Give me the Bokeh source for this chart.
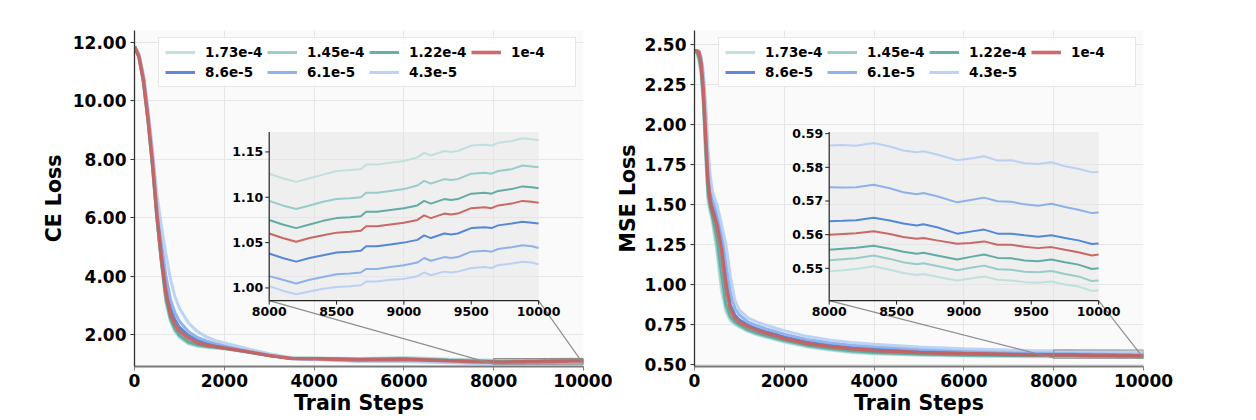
import numpy as np
from bokeh.plotting import figure
from bokeh.models import Range1d, FixedTicker, PrintfTickFormatter, Legend, LegendItem
from bokeh.layouts import row
from bokeh.embed import file_html
from bokeh.resources import INLINE
from bokeh.core.properties import value

# ---------------- data ----------------
SERIES_LABELS = ["1.73e-4", "1.45e-4", "1.22e-4", "1e-4", "8.6e-5", "6.1e-5", "4.3e-5"]
SERIES_COLORS = ["#bcdfdb", "#90cac4", "#5aa8a0", "#c85f5d", "#4c82d7", "#87aee9", "#b6cff3"]

X_TICKS = [0, 2000, 4000, 6000, 8000, 10000]
CE_Y_TICKS = [2, 4, 6, 8, 10, 12]
MSE_Y_TICKS = [0.5, 0.75, 1.0, 1.25, 1.5, 1.75, 2.0, 2.25, 2.5]

ZOOM_X_TICKS = [8000, 8500, 9000, 9500, 10000]
ZOOM_X_TICK_LABELS = ["8000", "8500", "9000", "9500", "10000"]
CE_ZOOM_Y_TICKS = [1.00, 1.05, 1.10, 1.15]
CE_ZOOM_Y_TICK_LABELS = ["1.00", "1.05", "1.10", "1.15"]
MSE_ZOOM_Y_TICKS = [0.55, 0.56, 0.57, 0.58, 0.59]
MSE_ZOOM_Y_TICK_LABELS = ["0.55", "0.56", "0.57", "0.58", "0.59"]

# CE loss, steps 0..7500
CE_STEPS = [0, 100, 200, 300, 400, 500, 600, 700, 800, 900, 1000, 1200, 1400, 1600,
            1800, 2000, 2500, 3000, 3500, 4000, 5000, 6000, 7000, 7500]
ce_173e4 = [11.85, 11.5, 10.6, 9.3, 7.7, 5.9, 4.4, 3.1, 2.45, 2.1, 1.9, 1.68, 1.6, 1.56, 1.53, 1.5, 1.40, 1.28, 1.21, 1.20, 1.18, 1.21, 1.16, 1.14]
ce_145e4 = [11.85, 11.5, 10.6, 9.3, 7.75, 5.95, 4.45, 3.15, 2.5, 2.15, 1.94, 1.71, 1.62, 1.58, 1.55, 1.52, 1.41, 1.28, 1.20, 1.19, 1.16, 1.19, 1.14, 1.12]
ce_122e4 = [11.85, 11.5, 10.65, 9.35, 7.8, 6.0, 4.5, 3.25, 2.55, 2.2, 1.98, 1.75, 1.65, 1.6, 1.56, 1.53, 1.41, 1.28, 1.19, 1.18, 1.15, 1.17, 1.12, 1.10]
ce_1e4 = [11.85, 11.5, 10.7, 9.4, 7.9, 6.1, 4.6, 3.4, 2.7, 2.35, 2.12, 1.88, 1.72, 1.64, 1.59, 1.54, 1.42, 1.28, 1.18, 1.17, 1.13, 1.15, 1.10, 1.07]
ce_86e5 = [11.85, 11.55, 10.75, 9.5, 8.0, 6.25, 4.85, 3.65, 2.9, 2.5, 2.25, 1.97, 1.8, 1.7, 1.63, 1.57, 1.43, 1.28, 1.18, 1.16, 1.11, 1.13, 1.08, 1.05]
ce_61e5 = [11.85, 11.55, 10.8, 9.6, 8.15, 6.45, 5.15, 4.0, 3.2, 2.75, 2.45, 2.1, 1.9, 1.78, 1.69, 1.62, 1.46, 1.30, 1.18, 1.15, 1.09, 1.10, 1.05, 1.03]
ce_43e5 = [11.85, 11.6, 10.9, 9.75, 8.35, 6.8, 5.7, 4.75, 3.9, 3.3, 2.9, 2.4, 2.1, 1.92, 1.8, 1.71, 1.52, 1.34, 1.2, 1.15, 1.08, 1.08, 1.03, 1.01]

# CE loss, steps 8000..10000 (zoomed region)
CE_ZOOM_STEPS = [8000, 8100, 8200, 8300, 8400, 8500, 8600, 8680, 8720, 8800, 8900, 9000, 9100,
                 9150, 9200, 9300, 9350, 9400, 9500, 9600, 9650, 9700, 9800, 9880, 9950, 10000]
ce_zoom_173e4 = [1.126, 1.121, 1.117, 1.121, 1.125, 1.129, 1.130, 1.131, 1.136, 1.136, 1.138, 1.140, 1.144, 1.149, 1.146, 1.151, 1.150, 1.151, 1.157, 1.158, 1.157, 1.160, 1.162, 1.165, 1.164, 1.163]
ce_zoom_145e4 = [1.096, 1.091, 1.087, 1.091, 1.095, 1.098, 1.099, 1.100, 1.105, 1.105, 1.107, 1.109, 1.113, 1.118, 1.115, 1.120, 1.119, 1.120, 1.126, 1.127, 1.126, 1.129, 1.131, 1.135, 1.134, 1.133]
ce_zoom_122e4 = [1.075, 1.070, 1.066, 1.070, 1.074, 1.077, 1.078, 1.079, 1.084, 1.084, 1.086, 1.088, 1.091, 1.096, 1.093, 1.098, 1.097, 1.098, 1.104, 1.105, 1.104, 1.107, 1.109, 1.112, 1.111, 1.110]
ce_zoom_1e4 = [1.060, 1.055, 1.051, 1.055, 1.058, 1.061, 1.062, 1.063, 1.068, 1.068, 1.070, 1.072, 1.075, 1.080, 1.077, 1.082, 1.081, 1.082, 1.088, 1.089, 1.088, 1.091, 1.093, 1.096, 1.095, 1.094]
ce_zoom_86e5 = [1.038, 1.033, 1.029, 1.033, 1.036, 1.039, 1.040, 1.041, 1.046, 1.046, 1.048, 1.050, 1.053, 1.058, 1.055, 1.060, 1.059, 1.060, 1.066, 1.067, 1.066, 1.069, 1.071, 1.073, 1.072, 1.071]
ce_zoom_61e5 = [1.013, 1.009, 1.005, 1.009, 1.012, 1.015, 1.016, 1.017, 1.021, 1.021, 1.023, 1.025, 1.028, 1.033, 1.030, 1.034, 1.033, 1.034, 1.040, 1.041, 1.040, 1.043, 1.045, 1.047, 1.046, 1.044]
ce_zoom_43e5 = [1.002, 0.997, 0.993, 0.996, 0.999, 1.001, 1.002, 1.003, 1.007, 1.007, 1.009, 1.010, 1.013, 1.017, 1.014, 1.018, 1.017, 1.018, 1.022, 1.023, 1.022, 1.025, 1.027, 1.029, 1.028, 1.026]

# MSE loss, steps 0..7500
MSE_STEPS = [0, 50, 100, 150, 200, 250, 300, 350, 400, 500, 600, 700, 800, 900, 1000, 1200,
             1400, 1600, 1800, 2000, 2500, 3000, 3500, 4000, 5000, 6000, 7000, 7500]
mse_173e4 = [2.46, 2.45, 2.40, 2.30, 2.10, 1.78, 1.52, 1.45, 1.39, 1.20, 0.96, 0.83, 0.775, 0.75, 0.735, 0.705, 0.685, 0.67, 0.655, 0.64, 0.61, 0.59, 0.575, 0.567, 0.558, 0.553, 0.550, 0.549]
mse_145e4 = [2.46, 2.45, 2.41, 2.32, 2.13, 1.82, 1.55, 1.47, 1.41, 1.24, 1.01, 0.85, 0.785, 0.757, 0.74, 0.71, 0.69, 0.675, 0.66, 0.645, 0.615, 0.595, 0.58, 0.571, 0.562, 0.557, 0.554, 0.553]
mse_122e4 = [2.46, 2.46, 2.42, 2.34, 2.16, 1.86, 1.58, 1.49, 1.43, 1.29, 1.08, 0.88, 0.80, 0.767, 0.748, 0.716, 0.696, 0.681, 0.666, 0.651, 0.621, 0.601, 0.586, 0.577, 0.566, 0.560, 0.557, 0.556]
mse_1e4 = [2.46, 2.46, 2.45, 2.38, 2.20, 1.92, 1.65, 1.52, 1.46, 1.37, 1.22, 0.99, 0.845, 0.79, 0.765, 0.735, 0.713, 0.695, 0.68, 0.662, 0.632, 0.612, 0.598, 0.588, 0.575, 0.568, 0.563, 0.561]
mse_86e5 = [2.46, 2.46, 2.45, 2.39, 2.24, 1.98, 1.71, 1.56, 1.49, 1.41, 1.27, 1.05, 0.87, 0.81, 0.78, 0.745, 0.723, 0.704, 0.69, 0.672, 0.641, 0.621, 0.607, 0.597, 0.583, 0.574, 0.568, 0.565]
mse_61e5 = [2.46, 2.46, 2.46, 2.41, 2.28, 2.05, 1.78, 1.62, 1.53, 1.45, 1.32, 1.14, 0.95, 0.85, 0.81, 0.765, 0.742, 0.722, 0.707, 0.69, 0.657, 0.636, 0.621, 0.611, 0.596, 0.586, 0.579, 0.576]
mse_43e5 = [2.46, 2.46, 2.46, 2.42, 2.32, 2.12, 1.85, 1.68, 1.58, 1.50, 1.38, 1.25, 1.05, 0.90, 0.84, 0.79, 0.765, 0.745, 0.728, 0.712, 0.676, 0.653, 0.637, 0.626, 0.609, 0.598, 0.591, 0.588]

# MSE loss, steps 8000..10000 (zoomed region)
MSE_ZOOM_STEPS = [8000, 8100, 8200, 8330, 8450, 8550, 8650, 8700, 8800, 8950, 9050, 9150, 9250,
                  9350, 9450, 9550, 9650, 9750, 9850, 9950, 10000]
mse_zoom_173e4 = [0.5491, 0.5494, 0.5498, 0.5506, 0.5496, 0.5486, 0.5480, 0.5483, 0.5475, 0.5464, 0.5470, 0.5476, 0.5466, 0.5464, 0.5459, 0.5457, 0.5461, 0.5452, 0.5446, 0.5433, 0.5435]
mse_zoom_145e4 = [0.5524, 0.5527, 0.5530, 0.5538, 0.5528, 0.5518, 0.5512, 0.5515, 0.5507, 0.5494, 0.5502, 0.5508, 0.5497, 0.5496, 0.5490, 0.5488, 0.5492, 0.5483, 0.5476, 0.5462, 0.5464]
mse_zoom_122e4 = [0.5555, 0.5558, 0.5561, 0.5567, 0.5558, 0.5549, 0.5543, 0.5546, 0.5538, 0.5526, 0.5534, 0.5541, 0.5531, 0.5530, 0.5523, 0.5521, 0.5526, 0.5518, 0.5511, 0.5498, 0.5500]
mse_zoom_1e4 = [0.5600, 0.5602, 0.5604, 0.5610, 0.5602, 0.5593, 0.5588, 0.5590, 0.5583, 0.5573, 0.5575, 0.5580, 0.5570, 0.5570, 0.5564, 0.5560, 0.5563, 0.5555, 0.5548, 0.5538, 0.5541]
mse_zoom_86e5 = [0.5640, 0.5641, 0.5643, 0.5650, 0.5642, 0.5633, 0.5627, 0.5631, 0.5622, 0.5603, 0.5609, 0.5615, 0.5603, 0.5603, 0.5598, 0.5594, 0.5598, 0.5590, 0.5583, 0.5572, 0.5574]
mse_zoom_61e5 = [0.5741, 0.5740, 0.5741, 0.5748, 0.5738, 0.5726, 0.5720, 0.5724, 0.5714, 0.5696, 0.5703, 0.5710, 0.5699, 0.5698, 0.5690, 0.5686, 0.5692, 0.5682, 0.5674, 0.5664, 0.5666]
mse_zoom_43e5 = [0.5865, 0.5866, 0.5864, 0.5872, 0.5862, 0.5850, 0.5845, 0.5848, 0.5838, 0.5821, 0.5826, 0.5833, 0.5820, 0.5821, 0.5812, 0.5810, 0.5815, 0.5803, 0.5796, 0.5785, 0.5787]

CE_MAIN = [ce_173e4, ce_145e4, ce_122e4, ce_1e4, ce_86e5, ce_61e5, ce_43e5]
CE_ZOOM = [ce_zoom_173e4, ce_zoom_145e4, ce_zoom_122e4, ce_zoom_1e4, ce_zoom_86e5, ce_zoom_61e5, ce_zoom_43e5]
MSE_MAIN = [mse_173e4, mse_145e4, mse_122e4, mse_1e4, mse_86e5, mse_61e5, mse_43e5]
MSE_ZOOM = [mse_zoom_173e4, mse_zoom_145e4, mse_zoom_122e4, mse_zoom_1e4, mse_zoom_86e5, mse_zoom_61e5, mse_zoom_43e5]

FONT = "DejaVu Sans"
INSET = (0.30, 0.196, 0.60, 0.502)   # left, bottom, width, height (fraction of frame)
DRAW_ORDER = [0, 1, 2, 4, 5, 6, 3]   # red drawn last


def panel(ylabel, yr, y_ticks, steps, zsteps, main_vals, zoom_vals, zyr,
          zy_ticks, zy_labels, border_left, border_right, ylabel_standoff):
    p = figure(frame_width=449, frame_height=336,
               x_range=Range1d(0, 10000), y_range=Range1d(*yr),
               output_backend="svg", toolbar_location=None,
               min_border_left=border_left, min_border_right=border_right,
               min_border_top=30, min_border_bottom=46)
    p.background_fill_color = "#fafafa"
    p.border_fill_color = "white"
    p.outline_line_color = None
    p.grid.grid_line_color = "#e6e6e6"
    p.grid.grid_line_width = 1

    p.xaxis.ticker = FixedTicker(ticks=X_TICKS)
    p.yaxis.ticker = FixedTicker(ticks=y_ticks)
    p.xaxis.formatter = PrintfTickFormatter(format="%d")
    p.yaxis.formatter = PrintfTickFormatter(format="%.2f")
    for ax in (p.xaxis[0], p.yaxis[0]):
        ax.major_label_text_font = FONT
        ax.major_label_text_font_style = "bold"
        ax.major_label_text_font_size = "17px"
        ax.major_label_text_color = "black"
        ax.axis_label_text_font = FONT
        ax.axis_label_text_font_style = "bold"
        ax.axis_label_text_font_size = "20.5px"
        ax.axis_label_text_color = "black"
        ax.major_tick_in = 0
        ax.major_tick_out = 4
        ax.minor_tick_line_color = None
    p.xaxis.axis_label = "Train Steps"
    p.yaxis.axis_label = ylabel
    p.xaxis.axis_line_color = "#7a7a7a"
    p.xaxis.axis_line_width = 2
    p.xaxis.major_tick_line_color = "#7a7a7a"
    p.yaxis.axis_line_color = "#333333"
    p.yaxis.axis_line_width = 1.3
    p.yaxis.major_tick_line_color = "#333333"
    p.xaxis.major_label_standoff = 3
    p.xaxis.axis_label_standoff = 1
    p.yaxis.major_label_standoff = 4
    p.yaxis.axis_label_standoff = ylabel_standoff

    # main curves
    full_steps = steps + zsteps
    rends = {}
    for i in DRAW_ORDER:
        lw = 3.6 if i == 3 else 3.0
        rends[i] = p.line(full_steps, main_vals[i] + zoom_vals[i],
                          line_color=SERIES_COLORS[i], line_width=lw, line_alpha=0.92)

    # inset geometry
    xr, yrr = p.x_range, p.y_range
    xw = xr.end - xr.start
    yh = yrr.end - yrr.start
    xt = Range1d(xr.start + INSET[0] * xw, xr.start + (INSET[0] + INSET[2]) * xw)
    yt = Range1d(yrr.start + INSET[1] * yh, yrr.start + (INSET[1] + INSET[3]) * yh)
    xs = Range1d(zsteps[0], zsteps[-1])
    ys = Range1d(*zyr)

    # zoom box and connector lines in main coordinates
    p.quad(left=[xs.start], right=[xs.end], bottom=[ys.start], top=[ys.end],
           fill_color=None, line_color="#8f8f8f", line_width=1.2)
    p.segment(x0=[xt.start, xt.end], y0=[yt.start, yt.start],
              x1=[xs.start, xs.end], y1=[ys.start, ys.start],
              line_color="#8f8f8f", line_width=1.2)

    sub = p.subplot(x_source=xs, y_source=ys, x_target=xt, y_target=yt)
    sub.quad(left=[xs.start], right=[xs.end], bottom=[ys.start], top=[ys.end],
             fill_color="#e4e4e4", fill_alpha=0.5, line_color=None)
    for i in DRAW_ORDER:
        sub.line(zsteps, zoom_vals[i], line_color=SERIES_COLORS[i],
                 line_width=2.0, line_alpha=0.95)
    # inset spines
    sub.segment(x0=[xs.start, xs.start], y0=[ys.start, ys.start],
                x1=[xs.start, xs.end], y1=[ys.end, ys.start],
                line_color="#222222", line_width=1.2)
    # inset ticks
    sub.ray(x=[xs.start] * len(zy_ticks), y=zy_ticks, length=4, length_units="screen",
            angle=np.pi, line_color="#222222", line_width=1)
    sub.ray(x=ZOOM_X_TICKS, y=[ys.start] * len(ZOOM_X_TICKS), length=4,
            length_units="screen", angle=-np.pi / 2, line_color="#222222", line_width=1)
    sub.text(x=[xs.start] * len(zy_ticks), y=zy_ticks, text=zy_labels,
             x_offset=-6, text_align="right", text_baseline="middle",
             text_font=value(FONT), text_font_style="bold", text_font_size="12.5px",
             text_color="black")
    sub.text(x=ZOOM_X_TICKS, y=[ys.start] * len(ZOOM_X_TICKS), text=ZOOM_X_TICK_LABELS,
             y_offset=6, text_align="center", text_baseline="top",
             text_font=value(FONT), text_font_style="bold", text_font_size="12.5px",
             text_color="black")

    items = [LegendItem(label=SERIES_LABELS[i], renderers=[rends[i]]) for i in range(7)]
    legend = Legend(items=items, location="top_right", orientation="horizontal", ncols=4,
                    label_text_font=FONT, label_text_font_style="bold",
                    label_text_font_size="13.5px", label_text_color="black",
                    glyph_width=30, glyph_height=16, label_height=16, label_width=58,
                    label_standoff=10, spacing=4, padding=6, margin=7,
                    border_line_color="#cfcfcf", border_line_width=1,
                    background_fill_color="white", background_fill_alpha=0.85)
    p.add_layout(legend)
    return p


left = panel("CE Loss", (0.905, 12.4), CE_Y_TICKS, CE_STEPS, CE_ZOOM_STEPS, CE_MAIN, CE_ZOOM,
             (0.986, 1.172), CE_ZOOM_Y_TICKS, CE_ZOOM_Y_TICK_LABELS, 134, 29, 4)
right = panel("MSE Loss", (0.4875, 2.5875), MSE_Y_TICKS, MSE_STEPS, MSE_ZOOM_STEPS, MSE_MAIN, MSE_ZOOM,
              (0.5404, 0.5905), MSE_ZOOM_Y_TICKS, MSE_ZOOM_Y_TICK_LABELS, 70, 40, 2)

layout = row(left, right)
open("out.html", "w").write(file_html(layout, INLINE))
